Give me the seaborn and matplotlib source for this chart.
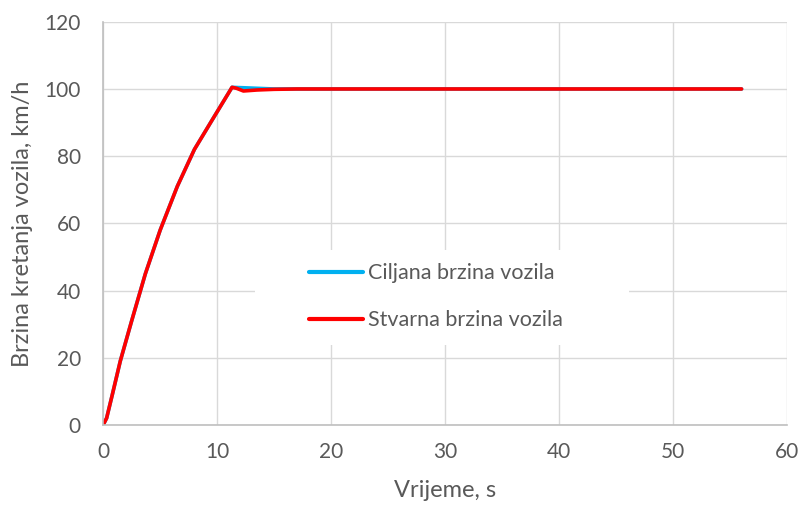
import matplotlib
matplotlib.use("Agg")
import matplotlib.pyplot as plt
from matplotlib.patches import Rectangle
import seaborn as sns
import pandas as pd

# Target (set-point) vehicle speed
t_target = [0, 0.3, 0.8, 1.5, 2.5, 3.7, 5.0, 6.5, 8.0, 9.6, 11.3, 15, 20, 30, 40, 50, 56]
v_target = [0, 2, 9, 19, 31, 45, 58, 71, 82, 91, 100.5, 100, 100, 100, 100, 100, 100]

# Actual vehicle speed
t_actual = [0, 0.3, 0.8, 1.5, 2.5, 3.7, 5.0, 6.5, 8.0, 9.6, 11.3, 11.7, 12.3, 13.5, 15, 17, 20, 30, 40, 50, 56]
v_actual = [0, 2, 9, 19, 31, 45, 58, 71, 82, 91, 100.5, 100.2, 99.4, 99.7, 99.9, 100, 100, 100, 100, 100, 100]

label_target = "Ciljana brzina vozila"
label_actual = "Stvarna brzina vozila"

x_ticks = [0, 10, 20, 30, 40, 50, 60]
y_ticks = [0, 20, 40, 60, 80, 100, 120]

sns.set_theme(style="white")
plt.rcParams["font.family"] = ["Lato", "DejaVu Sans"]

df = pd.concat([
    pd.DataFrame({"t": t_target, "v": v_target, "serija": label_target}),
    pd.DataFrame({"t": t_actual, "v": v_actual, "serija": label_actual}),
])

fig = plt.figure(figsize=(8, 5.07), dpi=100)
ax = fig.add_axes([0.129, 0.162, 0.855, 0.795])

sns.lineplot(data=df, x="t", y="v", hue="serija", sort=False, estimator=None,
             palette={label_target: "#00B0F0", label_actual: "#FF0000"},
             linewidth=2.6, ax=ax, legend=True)

ax.set_xlim(0, 60)
ax.set_ylim(0, 120)
ax.set_xticks(x_ticks)
ax.set_yticks(y_ticks)
ax.grid(True, color="#D9D9D9", linewidth=1.0)
ax.set_axisbelow(True)

text_color = "#595959"
ax.tick_params(axis="y", labelsize=15, colors=text_color, length=0, pad=16)
ax.tick_params(axis="x", labelsize=15, colors=text_color, length=0, pad=12)
ax.set_xlabel("Vrijeme, s", fontsize=17, color=text_color, labelpad=13)
ax.set_ylabel("Brzina kretanja vozila, km/h", fontsize=17, color=text_color, labelpad=8)

for side in ["top", "right"]:
    ax.spines[side].set_visible(False)
for side in ["left", "bottom"]:
    ax.spines[side].set_color("#BFBFBF")
    ax.spines[side].set_linewidth(1.2)

# white panel behind the legend
ax.add_patch(Rectangle((0.222, 0.199), 0.546, 0.235, transform=ax.transAxes,
                       facecolor="white", edgecolor="none", zorder=1.5))

leg = ax.legend(loc="center", bbox_to_anchor=(0.487, 0.318), frameon=False,
                fontsize=15.5, handlelength=2.5, labelspacing=1.25,
                handletextpad=0.25)
for txt in leg.get_texts():
    txt.set_color(text_color)
for line in leg.get_lines():
    line.set_linewidth(3)

fig.savefig("out.png", dpi=100, facecolor="white")
